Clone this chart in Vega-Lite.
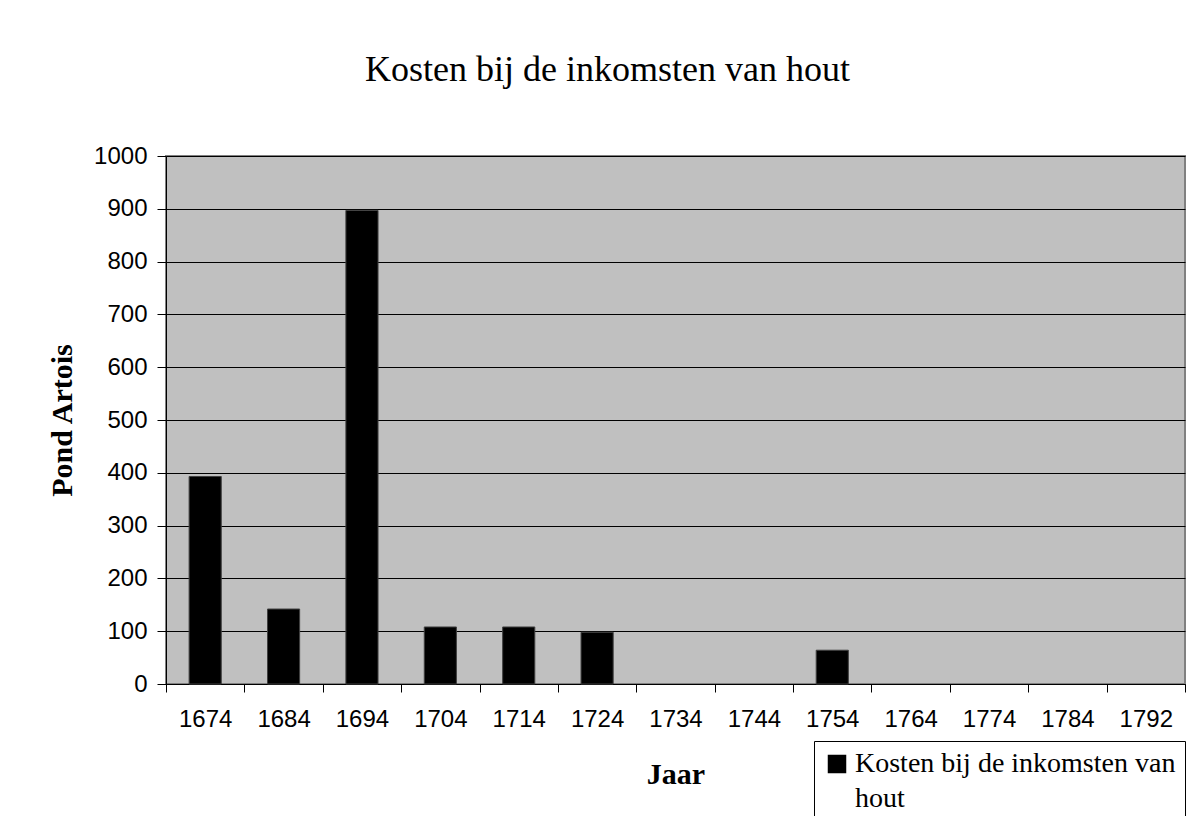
{
  "$schema": "https://vega.github.io/schema/vega-lite/v6.json",
  "width": 1019,
  "height": 528,
  "autosize": {"type": "none"},
  "padding": {"left": 166, "top": 156, "right": 7, "bottom": 132},
  "background": "white",
  "title": {
    "text": "Kosten bij de inkomsten van hout",
    "font": "Liberation Serif",
    "fontSize": 36,
    "fontWeight": "normal",
    "color": "black",
    "anchor": "middle",
    "frame": "group",
    "baseline": "alphabetic",
    "offset": 27,
    "dx": -68
  },
  "data": {
    "values": [
      {"jaar": "1674", "kosten": 393},
      {"jaar": "1684", "kosten": 142},
      {"jaar": "1694", "kosten": 897},
      {"jaar": "1704", "kosten": 108},
      {"jaar": "1714", "kosten": 108},
      {"jaar": "1724", "kosten": 98},
      {"jaar": "1734", "kosten": null},
      {"jaar": "1744", "kosten": null},
      {"jaar": "1754", "kosten": 64},
      {"jaar": "1764", "kosten": null},
      {"jaar": "1774", "kosten": null},
      {"jaar": "1784", "kosten": null},
      {"jaar": "1792", "kosten": null}
    ]
  },
  "mark": {"type": "bar", "stroke": "#404040", "strokeWidth": 1, "width": {"band": 0.41}},
  "encoding": {
    "x": {
      "field": "jaar",
      "type": "nominal",
      "sort": null,
      "scale": {
        "domain": ["1674","1684","1694","1704","1714","1724","1734","1744","1754","1764","1774","1784","1792"],
        "paddingInner": 0,
        "paddingOuter": 0
      },
      "axis": {
        "title": "Jaar",
        "titleFont": "Liberation Serif",
        "titleFontSize": 30,
        "titleFontWeight": "bold",
        "titleColor": "black",
        "titlePadding": 28,
        "labelAngle": 0,
        "labelFont": "Liberation Sans",
        "labelFontSize": 24,
        "labelColor": "black",
        "labelPadding": 15,
        "tickBand": "extent",
        "tickSize": 8,
        "tickColor": "black",
        "domainColor": "black",
        "domainWidth": 1,
        "grid": false
      }
    },
    "y": {
      "field": "kosten",
      "type": "quantitative",
      "scale": {"domain": [0, 1000], "nice": false},
      "axis": {
        "title": "Pond Artois",
        "titleFont": "Liberation Serif",
        "titleFontSize": 30,
        "titleFontWeight": "bold",
        "titleColor": "black",
        "titlePadding": 16,
        "values": [0, 100, 200, 300, 400, 500, 600, 700, 800, 900, 1000],
        "format": "d",
        "labelFont": "Liberation Sans",
        "labelFontSize": 24,
        "labelColor": "black",
        "labelPadding": 10,
        "tickSize": 9,
        "tickColor": "black",
        "domainColor": "black",
        "grid": true,
        "gridColor": "black",
        "gridWidth": 1
      }
    },
    "color": {
      "datum": "Kosten bij de inkomsten van hout",
      "type": "nominal",
      "scale": {"range": ["black"]},
      "legend": {
        "title": null,
        "orient": "none",
        "legendX": 648,
        "legendY": 585,
        "strokeColor": "black",
        "fillColor": "white",
        "padding": 9,
        "symbolType": "square",
        "symbolSize": 289,
        "symbolFillColor": "black",
        "symbolStrokeColor": "black",
        "labelFont": "Liberation Serif",
        "labelFontSize": 28,
        "labelColor": "black",
        "labelOffset": 4,
        "labelLimit": 600,
        "labelExpr": "['Kosten bij de inkomsten van', 'hout']",
        "encode": {
          "labels": {"update": {"lineHeight": {"value": 35}}}
        }
      }
    }
  },
  "config": {
    "view": {"fill": "#C0C0C0", "stroke": "#808080", "strokeWidth": 2}
  }
}
